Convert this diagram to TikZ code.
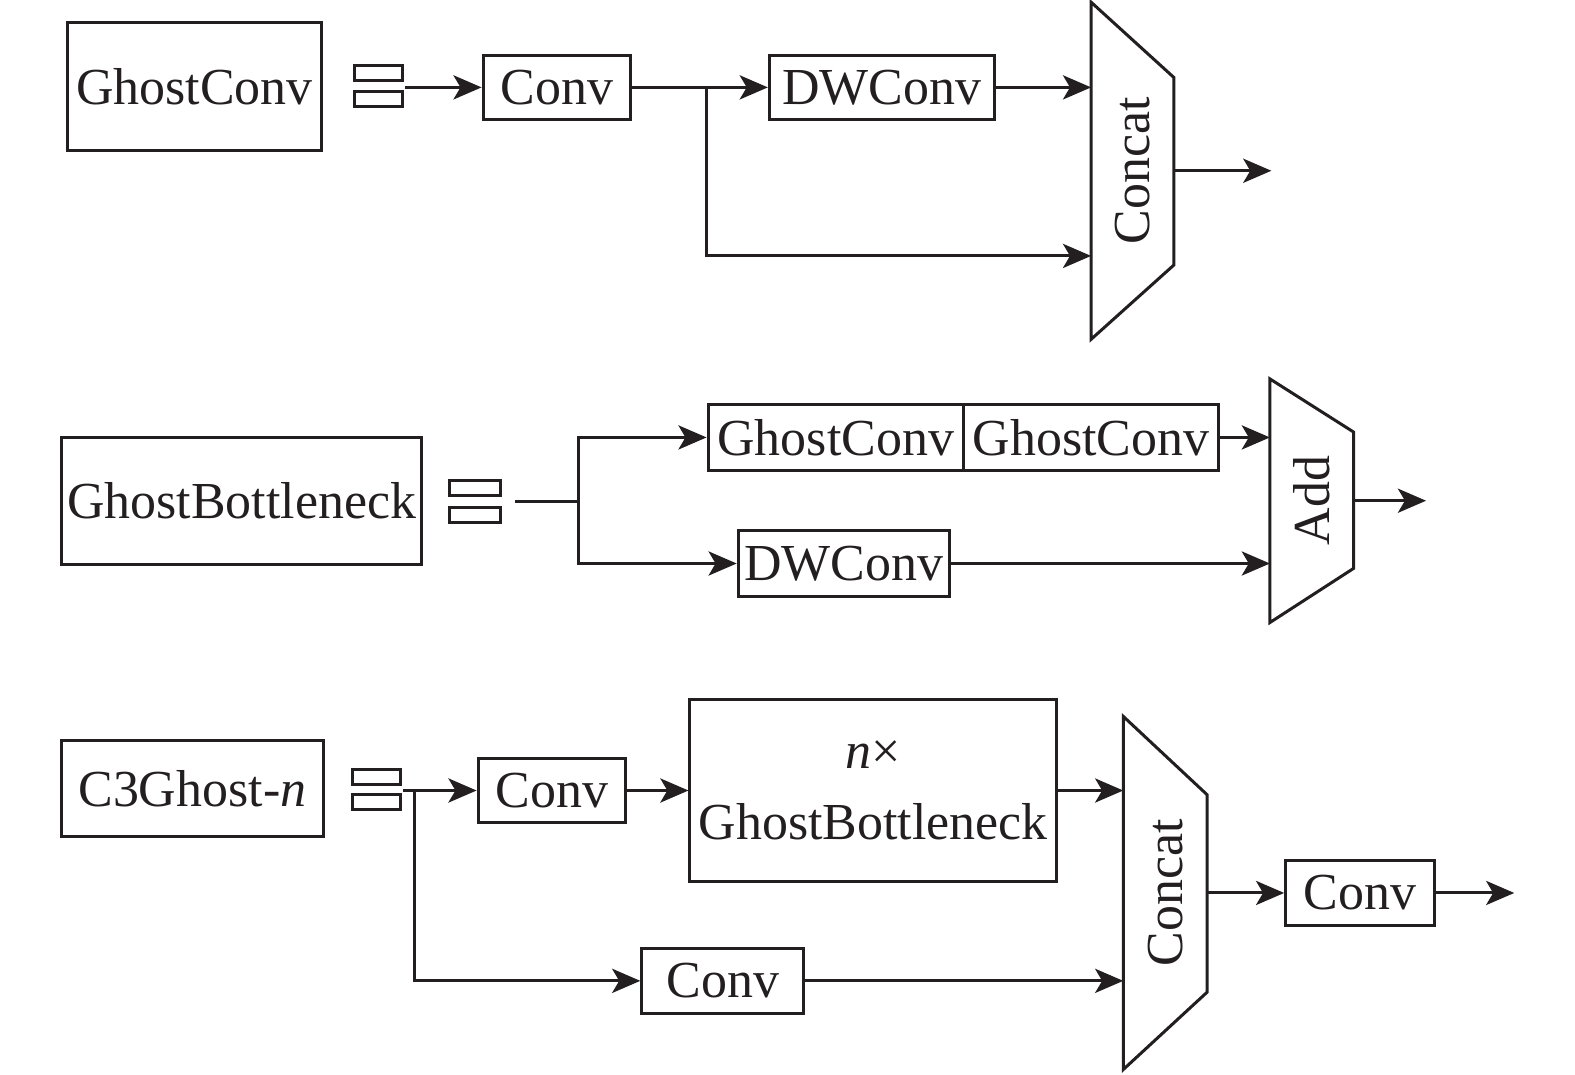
\documentclass[tikz,border=0pt]{standalone}
\usepackage{fontspec}
\setmainfont{Liberation Serif}
\usepackage{xcolor}
\usepackage{tikz}
\usetikzlibrary{arrows.meta, positioning, calc}

\definecolor{ink}{RGB}{35,31,32}

\begin{document}
\begin{tikzpicture}[
    x=0.01cm, y=-0.01cm,
    every node/.style={font=\fontsize{14.7pt}{17pt}\selectfont, text=ink},
    block/.style={rectangle, draw=ink, line width=0.85pt, inner sep=0pt, align=center},
    eqbar/.style={rectangle, draw=ink, line width=0.85pt, inner sep=0pt, minimum width=0.48cm, minimum height=0.15cm},
    merge/.style={rectangle, inner sep=0pt},
    arr/.style={-{Stealth[length=2.8mm, width=2.4mm, inset=0.7mm]}, line width=0.85pt, draw=ink},
    line/.style={line width=0.85pt, draw=ink},
]
\useasboundingbox (0,0) rectangle (1568,1070);

% ======== GHOSTCONV (top) ========
\node[block, minimum width=2.53cm, minimum height=1.28cm] (gctitle) at (193.5,86) {GhostConv};
\node[eqbar] (eqa1) at (377,72.5) {};
\node[eqbar] (eqa2) at (377,98.5) {};
\coordinate (eqa) at (403,87);
\node[block, minimum width=1.47cm, minimum height=0.64cm] (gconv) at (554.5,87) {Conv};
\node[block, minimum width=2.24cm, minimum height=0.64cm] (gdw) at (878,87) {DWConv};
\node[merge, minimum width=0.81cm, minimum height=3.34cm] (gcat) at (1127.5,170) {};
\node[rotate=90] at (gcat) {Concat};
\coordinate (gsplit) at (703,87);

\draw[line] (gcat.north west) -- ($(gcat.north east)+(0,75)$) -- ($(gcat.south east)+(0,-74)$) -- (gcat.south west) -- cycle;

\draw[arr] (eqa) -- (gconv.west);
\draw[arr] (gconv.east) -- (gdw.west);
\draw[arr] (gdw.east) -- (gdw.east -| gcat.west);
\draw[arr] (gsplit) |- ($(gcat.south west)+(0,-83)$);
\draw[arr] (gcat.east) -- ++(97,0);

% ======== GHOSTBOTTLENECK (middle) ========
\node[block, minimum width=3.59cm, minimum height=1.26cm] (gbtitle) at (240.5,499) {GhostBottleneck};
\node[eqbar, minimum width=0.50cm] (eqb1) at (473,486) {};
\node[eqbar, minimum width=0.50cm] (eqb2) at (473,512.5) {};
\coordinate (eqb) at (513,499);
\coordinate (bsplit) at (576,499);
\node[block, minimum width=2.54cm, minimum height=0.65cm] (bgc1) at (832,435.5) {GhostConv};
\node[block, minimum width=2.54cm, minimum height=0.65cm, right=-0.85pt of bgc1] (bgc2) {GhostConv};
\node[block, minimum width=2.10cm, minimum height=0.66cm] (bdw) at (840,561) {DWConv};
\node[merge, minimum width=0.82cm, minimum height=2.41cm] (badd) at (1306,498.5) {};
\node[rotate=90] at (badd) {Add};

\draw[line] (badd.north west) -- ($(badd.north east)+(0,53)$) -- ($(badd.south east)+(0,-54)$) -- (badd.south west) -- cycle;

\draw[line] (eqb) -- (bsplit);
\draw[arr] (bsplit) |- (bgc1.west);
\draw[arr] (bsplit) |- (bdw.west);
\draw[arr] (bgc2.east) -- (bgc2.east -| badd.west);
\draw[arr] (bdw.east) -- (bdw.east -| badd.west);
\draw[arr] (badd.east) -- ++(72,0);

% ======== C3GHOST (bottom) ========
\node[block, minimum width=2.61cm, minimum height=0.96cm] (c3title) at (191.5,785) {C3Ghost-\textit{n}};
\node[eqbar] (eqc1) at (375,773.5) {};
\node[eqbar] (eqc2) at (375,798.5) {};
\coordinate (eqc) at (401,787);
\coordinate (csplit) at (413,787);
\node[block, minimum width=1.47cm, minimum height=0.64cm] (cconv1) at (549.5,787) {Conv};
\node[block, minimum width=3.65cm, minimum height=1.82cm] (cbneck) at (869.5,787) {\textit{n}\texttimes\\[3pt]GhostBottleneck};
\node[block, minimum width=1.61cm, minimum height=0.65cm] (cconv2) at (719.5,976.5) {Conv};
\node[merge, minimum width=0.82cm, minimum height=3.50cm] (ccat) at (1160,889) {};
\node[rotate=90] at (ccat) {Concat};
\node[block, minimum width=1.48cm, minimum height=0.65cm] (cconv3) at (1354,889) {Conv};

\draw[line] (ccat.north west) -- ($(ccat.north east)+(0,78)$) -- ($(ccat.south east)+(0,-77)$) -- (ccat.south west) -- cycle;

\draw[arr] (eqc) -- (cconv1.west);
\draw[arr] (csplit) |- (cconv2.west);
\draw[arr] (cconv1.east) -- (cbneck.west);
\draw[arr] (cbneck.east) -- (cbneck.east -| ccat.west);
\draw[arr] (cconv2.east) -- (cconv2.east -| ccat.west);
\draw[arr] (ccat.east) -- (cconv3.west);
\draw[arr] (cconv3.east) -- ++(78,0);

\end{tikzpicture}
\end{document}
